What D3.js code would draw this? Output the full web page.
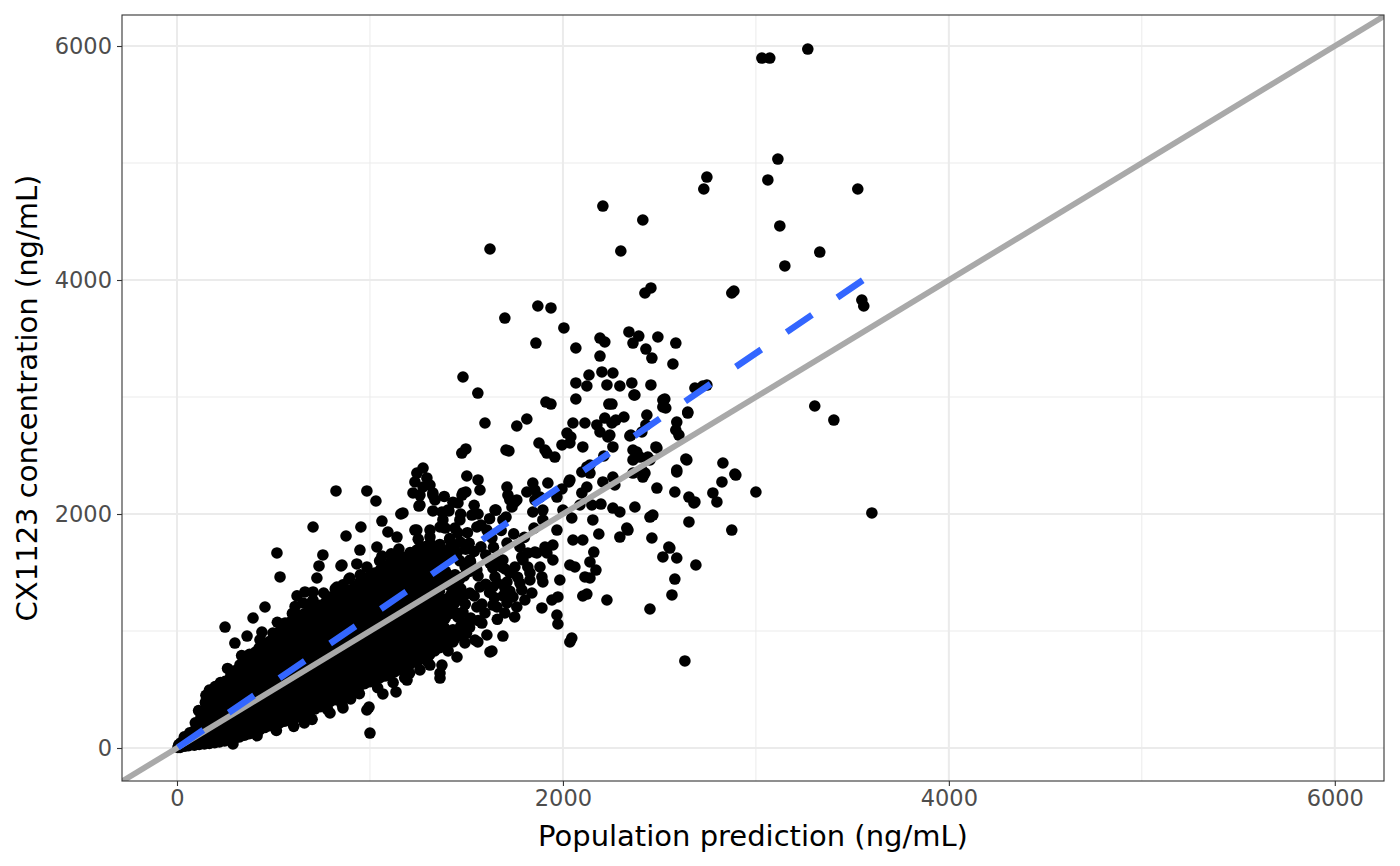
<!DOCTYPE html>
<html>
<head>
<meta charset="utf-8">
<script src="https://cdn.jsdelivr.net/npm/d3@7"></script>
<style>
  body { margin: 0; background: #fff; }
  text { font-family: "DejaVu Sans", sans-serif; }
</style>
</head>
<body>
<svg id="chart" width="1400" height="866"></svg>
<script>
var upperOutliers = [
  [3031,5897],[3072,5897],[3269,5974],[3114,5034],[3062,4855],[3528,4778],[2730,4778],[2746,4880],
  [2207,4632],[2414,4513],[3124,4462],[1622,4265],[2300,4248],[3331,4239],[3150,4120],[2456,3932],
  [2425,3889],[2875,3889],[2886,3906],[3549,3829],[3559,3778],[1870,3778],[1938,3761],[1699,3675],
  [2005,3590],[2342,3556],[2393,3521],[2192,3504],[1860,3461],[2585,3461],[2067,3419],[1482,3171],
  [1559,3034],[2725,3094],[2746,3102],[3305,2923],[3404,2803],[1596,2778],[1912,2957],[1938,2940],
  [3000,2188],[3601,2009],[2632,744],[1000,128],[824,2197]
];

var midPoints = [
  [2217,3470],[2363,3461],[2430,3410],[2461,3333],[2492,3513],[2570,3282],[2192,3350],[1761,2752],
  [1813,2812],[1720,2539],[1476,2521],[1497,2556],[2067,3120],[2135,3188],[2067,2983],[2124,3094],
  [2202,3214],[2259,3205],[2228,3103],[2295,3094],[2357,3120],[2373,3017],[2456,3103],[2238,2940],
  [2052,2778],[2114,2778],[2176,2761],[2217,2820],[2274,2803],[2316,2829],[2347,2667],[2233,2658],
  [2259,2573],[2192,2701],[2021,2692],[1995,2590],[2041,2658],[2103,2573],[1876,2607],[1917,2521],
  [1958,2487],[2435,2846],[2430,2761],[2528,2983],[2518,2915],[2684,3077],[2647,2863],[2590,2786],
  [2601,2675],[2482,2573],[2363,2547],[2399,2487],[2212,2496],[2140,2419],[2098,2359],[2031,2274],
  [1995,2214],[1922,2265],[1844,2265],[1813,2188],[1710,2231],[1725,2120],[1761,2120],[1855,2120],
  [1896,2034],[1844,2017],[1560,2291],[1502,2325],[1482,2180],[1456,2094],[1409,2026],[1653,2034],
  [1705,1974],[1751,2103],[1969,2145],[2000,2034],[2046,1966],[2098,2180],[2124,2231],[2207,2274],
  [2259,2316],[2269,2248],[2363,2350],[2425,2350],[2487,2222],[2440,2487],[2590,2359],[2580,2188],
  [2653,2145],[2684,2103],[2637,2470],[2829,2436],[2896,2333],[2824,2274],[2777,2180],[2798,2103],
  [2197,2085],[2150,2077],[2259,2051],[2295,2017],[2373,2060],[2451,1974],[2466,1991],[2653,1932],
  [2155,1949],[2052,1778],[2103,1778],[1969,1863],[1896,1949],[2295,1803],[2337,1863],[2461,1795],
  [2549,1718],[2875,1863],[2891,2342],[2689,1564],[2679,2094],[2554,1709],[2518,1633],[2590,1624],
  [2580,1444],[2565,1308],[2451,1188],[2642,2462],[2590,2376],[2331,1880],[2186,1829],[2160,1675],
  [2140,1590],[2171,1521],[2140,1453],[2062,1547],[2114,1462],[2124,1316],[2103,1299],[2228,1265],
  [1984,1436],[1974,1291],[1943,1265],[1969,1137],[1974,1060],[2046,940],[2036,906],[1891,1197],
  [1689,957],[1632,829],[1705,2547],[2254,2940],[2368,3017],[2518,2974],[2533,2906],[2647,2872],
  [2585,2718],[2409,2701],[2352,2675],[2254,2778],[2243,2675],[2036,2607],[1907,2547],[2383,2530],
  [2363,2462],[2409,2376],[2414,2316],[2451,2462],[2487,2564],[2124,2402],[2140,2350],[2036,2291],
  [1855,2205],[1715,2162],[1736,2060],[1689,1949],[1648,2034],[2088,2077],[1948,1735],[1907,1718],
  [1865,1667],[1818,1667],[1787,1633],[1818,1547],[1881,1547],[1896,1419],[1829,1436],[1777,1410],
  [1725,1496],[1684,1547],[1637,1539],[1637,1376],[1699,1368],[1741,1291],[1803,1265],[1658,1205],
  [1699,1154],[2036,1564],[1891,1462],[1829,1496],[1787,1351],[1839,1325],[1761,1205],[1710,1240],
  [1637,1222],[1596,1154],[1554,1205],[1580,1068],[1793,1607],[1855,1675],[1917,1667],[1948,1607],
  [1648,1462],[1710,1419],[1751,1547],[1689,1607],[1622,1581],[1554,1522],[1570,1376],[1518,1325],
  [1518,1607],[1451,1667],[1881,2145],[1710,1752],[1777,1718],[1570,2205],[1554,1889],[1606,1863],
  [1632,1795],[1456,1838],[1414,1778]
];

// the busy stretch just right of the dense band
var bandEdgePoints = [
  [1540,1300],[1580,1230],[1600,1400],[1560,1470],[1620,1330],[1660,1410],[1645,1285],[1690,1300],
  [1725,1340],[1765,1460],[1700,1530],[1660,1600],[1600,1650],[1575,1720],[1640,1715],[1540,1680],
  [1505,1840],[1680,1860],[1745,1830],[1800,1800],[1850,1880],[1620,1960],[1560,2000],[1440,1880],
  [1390,1880],[1470,2000],[1540,2075],[1430,2100],[1385,2150],[1660,1100],[1750,1120],[1560,1090],
  [1455,1120],[1430,1010],[1500,980]
];

// loose points along both edges of the band
var bandRim = [
  [290,35],[415,105],[515,150],[605,185],[700,245],[780,330],[855,375],[945,465],[1040,515],
  [1120,560],[1205,640],[1300,735],[1405,830],[660,215],[900,420],[1180,600],
  [150,450],[262,680],[335,790],[430,925],[520,1075],[598,1150],[700,1250],[760,1325],[860,1395],
  [950,1480],[1050,1600],[1150,1700],[1250,1785],[612,1210],[820,1360],[1110,1660]
];

var lowerPoints = [
  [1606,966],[1559,906],[1622,821],[1492,898],[1430,906],[1518,1094],[1482,1162],[1482,1051],
  [1363,1094],[1373,709],[1363,598],[1311,709],[1259,667],[1192,581],[1135,479],[1067,462],
  [995,350],[860,342],[793,299],[896,436],[974,607],[1269,923],[1347,949],[1285,1162],
  [984,325],[1363,641],[1451,778],[1347,898],[1544,923]
];

var leftPoints = [
  [249,1034],[300,897],[363,957],[394,1111],[456,1205],[440,991],[497,983],[518,1667],
  [534,1462],[705,1889],[984,2197],[1031,2111],[953,1889],[876,1812],[1062,1940],[1160,2000],
  [1093,1846],[1036,1718],[1062,1641],[756,1650],[736,1556],[725,1453],[850,1556],[932,1573],
  [891,1444],[829,1376],[622,1300],[663,1334],[705,1334],[653,1240],[560,1068],[984,1547],
  [777,1265],[1363,1718],[1243,1692],[948,1692],[855,1564],[896,1453],[1243,1863],[1259,2077],
  [1326,2026],[1373,2017],[1466,1949],[1363,1889],[1311,1803],[705,1265],[793,1291],[1275,2393],
  [1243,2350],[1233,2274],[1295,2308],[1311,2248],[1223,2180],[1259,2162],[1326,2162],[1254,2068],
  [1140,1803],[1404,2034],[1477,2162],[1497,2188],[1528,1991],[1575,1906],[1275,2231],[1326,2180],
  [1337,2120],[1171,2009],[1233,1863],[1311,1863],[1378,1949]
];

var cloudPoints = [
  [5,5],[10,30],[16,5],[20,45],[60,20],[70,95],[66,130],
  [115,30],[122,105],[118,190],[125,270],[112,320],
  [168,40],[175,118],[170,205],[165,285],[178,362],[172,440],[168,495],
  [220,52],[226,125],[218,205],[224,285],[221,365],[228,445],[219,520],[225,560],
  [272,70],[278,150],[274,230],[270,310],[280,390],[276,470],[271,545],[279,620],
  [324,95],[330,175],[322,255],[328,335],[325,415],[331,495],[323,575],[329,650],[326,710],
  [375,122],[381,205],[377,285],[373,365],[380,445],[376,525],[382,605],[374,685],[379,760],[376,800],
  [428,155],[434,230],[426,310],[432,390],[429,470],[435,550],[427,630],[433,710],[430,790],[426,855],
  [480,190],[486,270],[478,350],[484,430],[481,510],[487,590],[479,670],[485,750],[482,830],[478,910],
  [532,215],[538,290],[530,370],[536,450],[533,530],[539,610],[531,690],[537,770],[534,850],[530,930],[536,1005],
  [584,240],[590,320],[582,400],[588,480],[585,560],[591,640],[583,720],[589,800],[586,880],[582,960],[588,1040],[585,1075],
  [635,268],[641,345],[633,425],[639,505],[636,585],[642,665],[634,745],[640,825],[637,905],[633,985],[639,1065],[636,1135],
  [687,310],[693,390],[685,470],[691,550],[688,630],[694,710],[686,790],[692,870],[689,950],[685,1030],[691,1110],[688,1178],
  [739,352],[745,430],[737,510],[743,590],[740,670],[746,750],[738,830],[744,910],[741,990],[737,1070],[743,1150],[740,1220],
  [791,395],[797,475],[789,555],[795,635],[792,715],[798,795],[790,875],[796,955],[793,1035],[789,1115],[795,1195],[792,1262],
  [843,430],[849,510],[841,590],[847,670],[844,750],[850,830],[842,910],[848,990],[845,1070],[841,1150],[847,1230],[844,1305],
  [894,480],[900,560],[892,640],[898,720],[895,800],[901,880],[893,960],[899,1040],[896,1120],[892,1200],[898,1280],[895,1348],
  [946,532],[952,610],[944,690],[950,770],[947,850],[953,930],[945,1010],[951,1090],[948,1170],[944,1250],[950,1330],[947,1415],
  [998,566],[1004,645],[996,725],[1002,805],[999,885],[1005,965],[997,1045],[1003,1125],[1000,1205],[996,1285],[1002,1365],[999,1445],[1001,1478],
  [1050,600],[1056,680],[1048,760],[1054,840],[1051,920],[1057,1000],[1049,1080],[1055,1160],[1052,1240],[1048,1320],[1054,1400],[1051,1480],[1053,1520],
  [1102,626],[1108,705],[1100,785],[1106,865],[1103,945],[1109,1025],[1101,1105],[1107,1185],[1104,1265],[1100,1345],[1106,1425],[1103,1505],[1105,1585],
  [1153,670],[1159,750],[1151,830],[1157,910],[1154,990],[1160,1070],[1152,1150],[1158,1230],[1155,1310],[1151,1390],[1157,1470],[1154,1550],[1156,1635],
  [1205,712],[1211,790],[1203,870],[1209,950],[1206,1030],[1212,1110],[1204,1190],[1210,1270],[1207,1350],[1203,1430],[1209,1510],[1206,1590],[1208,1670],
  [1257,755],[1263,835],[1255,915],[1261,995],[1258,1075],[1264,1155],[1256,1235],[1262,1315],[1259,1395],[1255,1475],[1261,1555],[1258,1635],[1260,1715],
  [1309,798],[1315,880],[1307,960],[1313,1040],[1310,1120],[1316,1200],[1308,1280],[1314,1360],[1311,1440],[1307,1520],[1313,1600],[1310,1680],[1312,1750],
  [1361,858],[1367,940],[1359,1020],[1365,1100],[1362,1180],[1368,1260],[1360,1340],[1366,1420],[1363,1500],[1359,1580],[1365,1660],[1362,1740],
  [1412,910],[1418,990],[1416,1150],[1413,1230],[1419,1310],[1411,1390],[1417,1470],[1410,1630],[1416,1710],[1413,1790],
  [1464,960],[1470,1040],[1462,1120],[1465,1280],[1471,1360],[1463,1440],[1466,1600],[1468,1760],
  [1516,1030],[1522,1110],[1515,1510],[1521,1590],[1514,1750]
];

// points sitting between the columns above, where the band is solid black
var cloudFill = [
  [41,15],[45,60],[38,95],[90,25],[96,70],[92,150],[95,215],
  [142,35],[148,75],[145,150],[150,230],[141,310],[147,390],
  [195,45],[200,80],[194,160],[199,245],[196,325],[201,405],[193,480],[198,525],
  [247,60],[252,90],[246,170],[251,250],[248,330],[253,410],[245,490],[250,570],
  [299,85],[304,115],[298,195],[303,275],[300,355],[305,435],[297,515],[302,595],[299,660],
  [350,110],[355,165],[349,245],[354,325],[351,405],[356,485],[348,565],[353,645],[350,720],
  [402,140],[407,190],[401,270],[406,350],[403,430],[408,510],[400,590],[405,670],[402,750],[407,820],
  [454,175],[459,230],[453,310],[458,390],[455,470],[460,550],[452,630],[457,710],[454,790],[459,870],
  [506,205],[511,250],[505,330],[510,410],[507,490],[512,570],[504,650],[509,730],[506,810],[511,890],[505,960],
  [558,230],[563,280],[557,360],[562,440],[559,520],[564,600],[556,680],[561,760],[558,840],[563,920],[557,1000],[560,1040],
  [609,255],[614,305],[608,385],[613,465],[610,545],[615,625],[607,705],[612,785],[609,865],[614,945],[608,1025],[611,1100],
  [661,290],[666,350],[660,430],[665,510],[662,590],[667,670],[659,750],[664,830],[661,910],[666,990],[660,1070],[663,1150],
  [713,333],[718,390],[712,470],[717,550],[714,630],[719,710],[711,790],[716,870],[713,950],[718,1030],[712,1110],[715,1190],
  [765,375],[770,435],[764,515],[769,595],[766,675],[771,755],[763,835],[768,915],[765,995],[770,1075],[764,1155],[767,1235],
  [817,412],[822,470],[816,550],[821,630],[818,710],[823,790],[815,870],[820,950],[817,1030],[822,1110],[816,1190],[819,1270],
  [868,455],[873,520],[867,600],[872,680],[869,760],[874,840],[866,920],[871,1000],[868,1080],[873,1160],[867,1240],[870,1320],
  [920,507],[925,580],[919,660],[924,740],[921,820],[926,900],[918,980],[923,1060],[920,1140],[925,1220],[919,1300],[922,1380],
  [972,550],[977,620],[971,700],[976,780],[973,860],[978,940],[970,1020],[975,1100],[972,1180],[977,1260],[971,1340],[974,1420],
  [1024,585],[1029,640],[1023,720],[1028,800],[1025,880],[1030,960],[1022,1040],[1027,1120],[1024,1200],[1029,1280],[1021,1360],[1026,1440],[1024,1495],
  [1076,615],[1081,665],[1075,745],[1080,825],[1077,905],[1082,985],[1074,1065],[1079,1145],[1076,1225],[1081,1305],[1073,1385],[1078,1465],[1076,1545],
  [1127,650],[1132,705],[1126,785],[1131,865],[1128,945],[1133,1025],[1125,1105],[1130,1185],[1127,1265],[1132,1345],[1124,1425],[1129,1505],[1127,1585],
  [1179,692],[1184,750],[1178,830],[1183,910],[1180,990],[1185,1070],[1177,1150],[1182,1230],[1179,1310],[1184,1390],[1176,1470],[1181,1550],[1179,1630],
  [1231,735],[1236,795],[1230,875],[1235,955],[1232,1035],[1237,1115],[1229,1195],[1234,1275],[1231,1355],[1236,1435],[1228,1515],[1233,1595],[1231,1675],
  [1283,778],[1288,840],[1282,920],[1287,1000],[1284,1080],[1289,1160],[1281,1240],[1286,1320],[1283,1400],[1288,1480],[1280,1560],[1285,1640],[1283,1720],
  [1335,830],[1340,900],[1334,980],[1339,1060],[1336,1140],[1341,1220],[1333,1300],[1338,1380],[1335,1460],[1340,1540],[1332,1620],[1337,1700],
  [1386,885],[1391,950],[1385,1030],[1390,1110],[1387,1190],[1392,1270],[1389,1430],[1391,1510],[1385,1590],[1388,1670],
  [1438,935],[1443,1000],[1442,1160],[1439,1240],[1444,1320],[1436,1400],[1441,1480],[1444,1640],[1437,1720],
  [1490,995],[1495,1070],[1494,1230],[1491,1310],[1488,1470],[1493,1550],[1496,1700]
];

// linear fit (geom_smooth, method = "lm")
var fitIntercept = 0;
var fitSlope = 1.125;

var xTicks = [0, 2000, 4000, 6000];
var yTicks = [0, 2000, 4000, 6000];
var minorTicks = [1000, 3000, 5000];

var allPoints = cloudPoints.concat(cloudFill, bandRim, bandEdgePoints, lowerPoints, leftPoints, midPoints, upperOutliers);

var svg = d3.select("#chart"),
    margin = {top: 15, right: 16, bottom: 85, left: 122},
    width = +svg.attr("width") - margin.left - margin.right,
    height = +svg.attr("height") - margin.top - margin.bottom,
    g = svg.append("g").attr("transform", "translate(" + margin.left + "," + margin.top + ")");

var x = d3.scaleLinear().domain([-285, 6255]).range([0, width]);
var y = d3.scaleLinear().domain([-282, 6265]).range([height, 0]);

svg.append("defs").append("clipPath").attr("id", "panel")
    .append("rect").attr("width", width).attr("height", height);

// grid
g.append("g").selectAll("line").data(minorTicks).enter().append("line")
    .attr("x1", function(d) { return x(d); }).attr("x2", function(d) { return x(d); })
    .attr("y1", 0).attr("y2", height)
    .attr("stroke", "#EBEBEB").attr("stroke-width", 1);
g.append("g").selectAll("line").data(minorTicks).enter().append("line")
    .attr("y1", function(d) { return y(d); }).attr("y2", function(d) { return y(d); })
    .attr("x1", 0).attr("x2", width)
    .attr("stroke", "#EBEBEB").attr("stroke-width", 1);
g.append("g").selectAll("line").data(xTicks).enter().append("line")
    .attr("x1", function(d) { return x(d); }).attr("x2", function(d) { return x(d); })
    .attr("y1", 0).attr("y2", height)
    .attr("stroke", "#EBEBEB").attr("stroke-width", 2);
g.append("g").selectAll("line").data(yTicks).enter().append("line")
    .attr("y1", function(d) { return y(d); }).attr("y2", function(d) { return y(d); })
    .attr("x1", 0).attr("x2", width)
    .attr("stroke", "#EBEBEB").attr("stroke-width", 2);

// points
g.append("g").attr("clip-path", "url(#panel)")
    .selectAll("circle").data(allPoints).enter().append("circle")
    .attr("cx", function(d) { return x(d[0]); })
    .attr("cy", function(d) { return y(d[1]); })
    .attr("r", 5.8)
    .attr("fill", "#000");

// identity line
var dom = x.domain();
g.append("line")
    .attr("clip-path", "url(#panel)")
    .attr("x1", x(dom[0])).attr("y1", y(dom[0]))
    .attr("x2", x(dom[1])).attr("y2", y(dom[1]))
    .attr("stroke", "#A9A9A9").attr("stroke-width", 5.8);

// lm fit over the range of the predictions
var xr = d3.extent(allPoints, function(d) { return d[0]; });
g.append("line")
    .attr("x1", x(xr[0])).attr("y1", y(fitIntercept + fitSlope * xr[0]))
    .attr("x2", x(xr[1])).attr("y2", y(fitIntercept + fitSlope * xr[1]))
    .attr("stroke", "#3366FF").attr("stroke-width", 6.5)
    .attr("stroke-dasharray", "30.7,30.7");

// panel border
g.append("rect").attr("width", width).attr("height", height)
    .attr("fill", "none").attr("stroke", "#333333").attr("stroke-width", 1.1);

// axes
var xAxis = g.append("g")
    .attr("transform", "translate(0," + height + ")")
    .call(d3.axisBottom(x).tickValues(xTicks).tickSize(5).tickPadding(4).tickFormat(d3.format("d")));
var yAxis = g.append("g")
    .call(d3.axisLeft(y).tickValues(yTicks).tickSize(5).tickPadding(5).tickFormat(d3.format("d")));
[xAxis, yAxis].forEach(function(a) {
    a.select(".domain").remove();
    a.selectAll(".tick line").attr("stroke", "#333333").attr("stroke-width", 1.1);
    a.selectAll(".tick text").attr("fill", "#4D4D4D").style("font-size", "22.5px")
        .style("font-family", "DejaVu Sans, sans-serif");
});

svg.append("text")
    .attr("x", margin.left + width / 2)
    .attr("y", 846)
    .attr("text-anchor", "middle")
    .style("font-size", "29px")
    .attr("fill", "#000")
    .text("Population prediction (ng/mL)");

svg.append("text")
    .attr("transform", "translate(37," + (margin.top + height / 2) + ") rotate(-90)")
    .attr("text-anchor", "middle")
    .style("font-size", "29px")
    .attr("fill", "#000")
    .text("CX1123 concentration (ng/mL)");
</script>
</body>
</html>
